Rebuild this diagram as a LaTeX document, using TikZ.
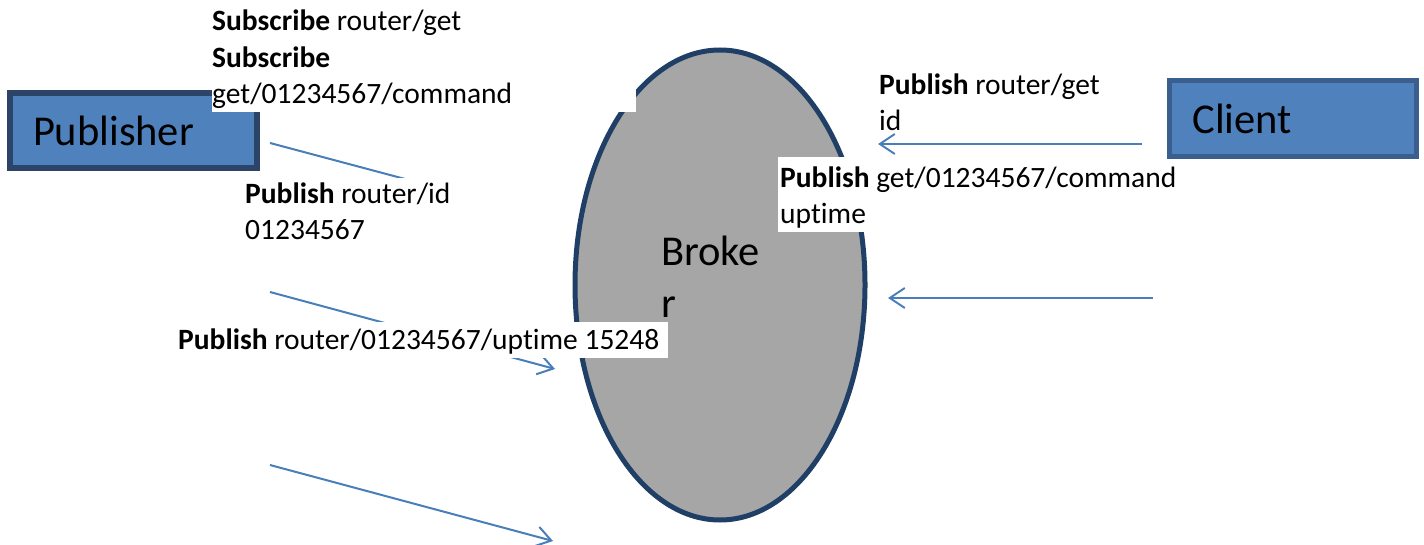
\documentclass[tikz,border=0pt]{standalone}
\usepackage{fontspec}
\setmainfont{Carlito}[Ligatures=NoCommon]
\usetikzlibrary{arrows.meta,shapes.geometric}
\definecolor{boxfill}{HTML}{4F81BD}
\definecolor{publine}{HTML}{2B4468}
\definecolor{cliline}{HTML}{3A5F8E}
\definecolor{ellfill}{HTML}{A6A6A6}
\definecolor{ellline}{HTML}{1F3F66}
\definecolor{arrowblue}{HTML}{4A7EBB}
\begin{document}
\begin{tikzpicture}[x=1pt,y=-1pt,
  bigtext/.style={font=\fontsize{42.5}{52}\selectfont},
  lbl/.style={font=\fontsize{29.5}{36.5}\selectfont, align=left, anchor=base west, inner sep=0pt},
  entity/.style={rectangle, fill=boxfill, minimum width=247pt, inner ysep=0pt,
    text width=201pt, align=left, font=\fontsize{42.5}{50}\selectfont},
  msg/.style={draw=arrowblue, line width=2pt, -{Straight Barb[length=15pt,width=20pt]}},
  mask/.style={fill=white}]
\useasboundingbox (0,0) rectangle (1424,545);
\fill[white] (0,0) rectangle (1424,545);
% broker
\node[ellipse, draw=ellline, line width=5pt, fill=ellfill, minimum width=290pt, minimum height=470pt, inner sep=0pt] (broker) at (720,285) {};
\node[anchor=base west, inner sep=0pt, align=left, bigtext] (brokerlabel) at (661,317) {Broke\\r};
% entities
\node[entity, draw=publine, line width=6pt, minimum height=75pt, inner xsep=23pt] (publisher) at (133.5,130.5) {Publisher};
\node[entity, draw=cliline, line width=5pt, minimum height=76pt, inner xsep=23pt] (client) at (1293,118.5) {Client};
% connectors
\coordinate (p1s) at (270,143); \coordinate (p1e) at (555,219);
\coordinate (p2s) at (270,292); \coordinate (p2e) at (555,369);
\coordinate (p3s) at (270,465); \coordinate (p3e) at (553,541);
\coordinate (c1s) at (1142,144); \coordinate (c1e) at (878,144);
\coordinate (c2s) at (1153,298); \coordinate (c2e) at (888,298);
\draw[msg] (p1s) -- (p1e);
\draw[msg] (p2s) -- (p2e);
\draw[msg] (p3s) -- (p3e);
\draw[msg] (c1s) -- (c1e);
\draw[msg] (c2s) -- (c2e);
% label backgrounds
\fill[mask] (212,0) rectangle (636,112);
\fill[mask] (240,178) rectangle (560,255);
\fill[mask] (172,322) rectangle (668,358);
\fill[mask] (778,157) rectangle (1164,232);
% labels
\node[lbl] (sub) at (212,104) {\textbf{Subscribe} router/get\\\textbf{Subscribe}\\get/01234567/command};
\node[lbl] (pubid) at (245,240) {\textbf{Publish} router/id\\01234567};
\node[lbl] (pubup) at (178,349) {\textbf{Publish} router/01234567/uptime 15248};
\node[lbl] (getid) at (879,131) {\textbf{Publish} router/get\\id};
\node[lbl] (getcmd) at (780,224) {\textbf{Publish} get/01234567/command\\uptime};
\end{tikzpicture}
\end{document}
